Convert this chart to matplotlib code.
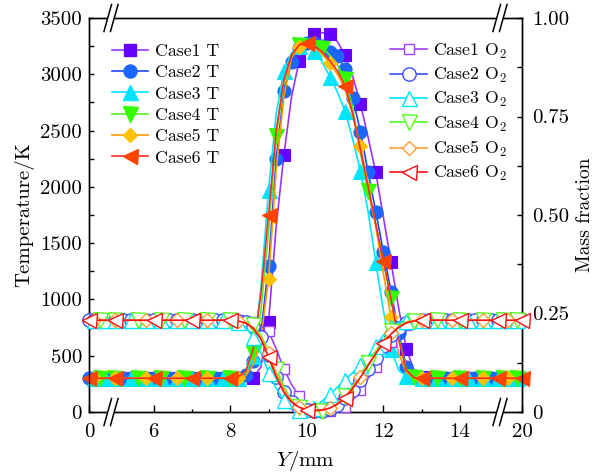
import numpy as np
import matplotlib
matplotlib.use('Agg')
import matplotlib.pyplot as plt
from matplotlib.lines import Line2D
from matplotlib.patches import Polygon

plt.rcParams['font.family'] = ['cmr10', 'DejaVu Serif']
plt.rcParams['mathtext.fontset'] = 'cm'
plt.rcParams['axes.formatter.use_mathtext'] = True

# ---------------- data ----------------
Y_LEFT = [0, 1, 2, 3, 4, 5.0, 5.2, 5.4, 5.6, 5.8, 6.0, 6.2, 6.4, 6.6, 6.8,
          7.0, 7.2, 7.4, 7.6, 7.8]
Y_CORE = [8.0, 8.2, 8.4, 8.6, 8.8, 9.0, 9.2, 9.4, 9.6, 9.8, 10.0, 10.2, 10.4,
          10.6, 10.8, 11.0, 11.2, 11.4, 11.6, 11.8, 12.0, 12.2, 12.4, 12.6,
          12.8, 13.0]
Y_RIGHT = [13.2, 13.4, 13.6, 13.8, 14.0, 14.2, 14.4, 14.6, 14.8, 15.0,
           16, 17, 18, 19, 20]

T_AMB = 300      # K, flat level outside the flame
O2_AIR = 0.233   # mass fraction, flat level outside the flame

T1 = [300, 300, 300, 305, 400, 800, 1650, 2280, 2800, 3120, 3300, 3360, 3370,
      3360, 3290, 3170, 2980, 2740, 2440, 2130, 1730, 1330, 920, 560, 370, 310]
T2 = [300, 305, 330, 450, 700, 1300, 2250, 2850, 3110, 3230, 3275, 3275, 3250,
      3200, 3160, 3050, 2790, 2490, 2130, 1780, 1420, 1070, 700, 400, 320, 300]
T3 = [300, 300, 320, 500, 1100, 1970, 2650, 3030, 3190, 3250, 3250, 3210, 3110,
      2980, 2840, 2670, 2420, 2140, 1780, 1330, 900, 560, 370, 320, 305, 300]
T4 = [300, 305, 350, 520, 900, 1600, 2450, 2930, 3170, 3260, 3280, 3265, 3235,
      3170, 3080, 2960, 2700, 2300, 1960, 1660, 1340, 1010, 660, 380, 310, 300]
T5 = [300, 300, 320, 420, 650, 1180, 2150, 2800, 3150, 3240, 3260, 3240, 3180,
      3100, 3000, 2870, 2630, 2360, 2030, 1650, 1230, 840, 520, 350, 305, 300]
T6 = [300, 310, 360, 560, 1050, 1750, 2500, 2950, 3170, 3260, 3275, 3250, 3200,
      3120, 3030, 2900, 2650, 2330, 2000, 1670, 1340, 1000, 640, 370, 305, 300]

O1 = [.233, .233, .232, .228, .220, .205, .160, .110, .070, .040, .020, .008, .003,
      .002, .004, .012, .030, .055, .085, .115, .148, .178, .205, .222, .230, .233]
O2 = [.233, .232, .228, .218, .190, .145, .090, .050, .025, .010, .004, .002, .003,
      .008, .018, .035, .055, .080, .108, .138, .168, .195, .214, .226, .231, .233]
O3 = [.233, .228, .215, .190, .150, .100, .060, .030, .014, .006, .004, .010, .028,
      .045, .063, .082, .100, .120, .142, .168, .195, .215, .227, .232, .233, .233]
O4 = [.233, .232, .229, .220, .195, .155, .110, .065, .030, .012, .004, .002, .003,
      .008, .020, .040, .065, .095, .125, .155, .182, .205, .220, .229, .232, .233]
O5 = [.233, .232, .228, .215, .190, .150, .100, .058, .028, .012, .005, .003, .004,
      .010, .022, .040, .062, .090, .120, .150, .178, .200, .217, .228, .232, .233]
O6 = [.233, .231, .226, .212, .185, .140, .090, .050, .025, .012, .006, .004, .005,
      .010, .020, .035, .060, .088, .118, .148, .175, .198, .215, .226, .231, .233]

CASES = ['Case1', 'Case2', 'Case3', 'Case4', 'Case5', 'Case6']
T_SERIES = [T1, T2, T3, T4, T5, T6]
O_SERIES = [O1, O2, O3, O4, O5, O6]

X_TICKS = [0, 6, 8, 10, 12, 14, 20]
X_MINOR = [7, 9, 11, 13]
T_TICKS = [0, 500, 1000, 1500, 2000, 2500, 3000, 3500]
F_TICKS = [0, 0.25, 0.50, 0.75, 1.00]
F_TICKLABELS = ['0', '0.25', '0.50', '0.75', '1.00']

# ---------------- styles ----------------
MARKERS_T = ['s', 'o', '^', 'v', 'D', '<']
MS_T = [8.6, 9.4, 10.8, 10.8, 6.8, 10.8]
MS_O = [7.8, 9.6, 10.8, 10.8, 7.2, 10.8]
LINE_T = ['#9933FF', '#2244FF', '#00E5FF', '#55EE22', '#FF9900', '#FF2A2A']
FILL_T = ['#6600FF', '#1A66FF', '#00E5FF', '#33FF00', '#FFC000', '#FF4400']
LINE_O = ['#A040FF', '#3D4DFF', '#00E5FF', '#55FF22', '#FF9F33', '#FF1010']
EVERY = [(1, 2), (0, 1), (1, 2), (2, 3), (1, 4), (0, 5)]


def fwd(y):
    y = np.asarray(y, float)
    return np.where(y < 5, 4.31 + 0.138 * y,
                    np.where(y > 15, 15 + 0.124 * (y - 15), y))


def inv(u):
    u = np.asarray(u, float)
    return np.where(u < 5, (u - 4.31) / 0.138,
                    np.where(u > 15, 15 + (u - 15) / 0.124, u))


W, H = 596, 472
fig = plt.figure(figsize=(W / 100, H / 100), dpi=100)
ax = fig.add_axes([89 / W, 1 - 412 / H, 433 / W, 394 / H])
ax2 = ax.twinx()

Y = Y_LEFT + Y_CORE + Y_RIGHT
nL, nR = len(Y_LEFT), len(Y_RIGHT)

for i in range(6):
    tv = [T_AMB] * nL + T_SERIES[i] + [T_AMB] * nR
    ax.plot(Y, tv, color=LINE_T[i], lw=1.2, marker=MARKERS_T[i], ms=MS_T[i],
            mfc=FILL_T[i], mec=FILL_T[i], mew=0.8, markevery=EVERY[i],
            clip_on=False, zorder=3 + i)
for i in range(6):
    ov = [O2_AIR] * nL + O_SERIES[i] + [O2_AIR] * nR
    ax2.plot(Y, ov, color=LINE_O[i], lw=1.2, marker=MARKERS_T[i], ms=MS_O[i],
             mfc='white', mec=LINE_O[i], mew=1.0, markevery=EVERY[i],
             clip_on=False, zorder=3 + i)

for a in (ax, ax2):
    a.set_xscale('function', functions=(fwd, inv))
    a.set_xlim(0, 20)
ax.set_ylim(0, 3500)
ax2.set_ylim(0, 1.0)

ax.set_xticks(X_TICKS)
ax.set_xticklabels([str(v) for v in X_TICKS])
ax.set_xticks(X_MINOR, minor=True)
ax.set_yticks(T_TICKS)
ax.set_yticklabels([str(v) for v in T_TICKS])
ax.set_yticks([250, 750, 1250, 1750, 2250, 2750, 3250], minor=True)
ax2.set_yticks(F_TICKS)
ax2.set_yticklabels(F_TICKLABELS)
ax2.set_yticks([0.125, 0.375, 0.625, 0.875], minor=True)

ax.tick_params(axis='x', which='both', direction='in', top=False, labelsize=15, pad=8)
ax.tick_params(axis='x', which='major', length=5, width=1)
ax.tick_params(axis='x', which='minor', length=2.5, width=1)
ax.tick_params(axis='y', which='both', direction='in', right=False, labelsize=15, pad=5)
ax.tick_params(axis='y', which='major', length=3.5, width=1)
ax.tick_params(axis='y', which='minor', length=3.5, width=1)
ax2.tick_params(axis='y', which='both', direction='in', labelsize=15, pad=7)
ax2.tick_params(axis='y', which='major', length=3.5, width=1)
ax2.tick_params(axis='y', which='minor', length=3.5, width=1)
ax2.tick_params(axis='x', which='both', bottom=False, top=False, labelbottom=False)

for a in (ax, ax2):
    for s in a.spines.values():
        s.set_linewidth(1.0)

ax.set_xlabel(r'$Y$/mm', fontsize=15, labelpad=6)
ax.set_ylabel('Temperature/K', fontsize=15, labelpad=4)
ax2.set_ylabel('Mass fraction', fontsize=14, labelpad=5)

# axis breaks
bw, bh = 433.0, 394.0
dx, dy, gap = 3.8 / bw, 13.5 / bh, 6.5 / bw
for xc in ((111 - 89) / bw, (500 - 89) / bw):
    for yc in (0.0, 1.0):
        x1, x2 = xc - gap / 2, xc + gap / 2
        poly = Polygon([(x1 - dx * 0.25, yc - dy * 0.25), (x2 - dx * 0.25, yc - dy * 0.25),
                        (x2 + dx * 0.25, yc + dy * 0.25), (x1 + dx * 0.25, yc + dy * 0.25)],
                       closed=True, transform=ax2.transAxes, facecolor='white',
                       edgecolor='none', clip_on=False, zorder=20)
        ax2.add_patch(poly)
        for xs in (x1, x2):
            ax2.plot([xs - dx, xs + dx], [yc - dy, yc + dy], color='black', lw=1.1,
                     transform=ax2.transAxes, clip_on=False, zorder=21)

# legends
hT = [Line2D([], [], color=LINE_T[i], lw=1.2, marker=MARKERS_T[i], ms=MS_T[i],
             mfc=FILL_T[i], mec=FILL_T[i]) for i in range(6)]
hO = [Line2D([], [], color=LINE_O[i], lw=1.2, marker=MARKERS_T[i], ms=MS_O[i],
             mfc='white', mec=LINE_O[i], mew=1.0) for i in range(6)]
labT = [c + ' T' for c in CASES]
labO = [c + r' O$_2$' for c in CASES]

leg1 = ax2.legend(hT, labT, loc='upper left', bbox_to_anchor=(0.053, 0.935),
                  frameon=False, fontsize=12.8, handlelength=2.05,
                  handletextpad=0.35, labelspacing=0.33, borderaxespad=0,
                  borderpad=0)
ax2.add_artist(leg1)
leg2 = ax2.legend(hO, labO, loc='upper left', bbox_to_anchor=(0.695, 0.94),
                  frameon=False, fontsize=12.8, handlelength=2.1,
                  handletextpad=0.3, labelspacing=0.3, borderaxespad=0,
                  borderpad=0)

fig.savefig('out.png', dpi=100)
